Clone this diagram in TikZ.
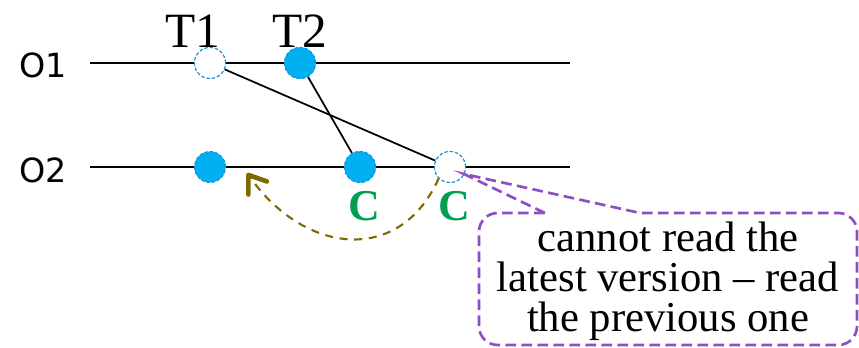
\documentclass[tikz,border=0pt]{standalone}
\usepackage{fontspec}
\setmainfont{Liberation Serif}
\newfontfamily\labfont{DejaVu Sans}
\usetikzlibrary{arrows.meta}
\definecolor{evcyan}{HTML}{00B0F0}
\definecolor{evblue}{HTML}{1E90D8}
\definecolor{evpurple}{HTML}{8E4EC6}
\definecolor{evolive}{HTML}{7F6A00}
\definecolor{evgreen}{HTML}{00A050}
\begin{document}
\begin{tikzpicture}[x=0.75pt,y=-0.75pt,
  evdot/.style={circle,minimum size=31pt*0.75,inner sep=0pt,draw=evblue,dash pattern=on 2.5pt off 1.5pt,line width=0.8pt,fill=evcyan},
  evghost/.style={evdot,fill=white},
  objlab/.style={font=\labfont\fontsize{25}{28}\selectfont},
  txlab/.style={font=\fontsize{37}{42}\selectfont},
  clab/.style={font=\bfseries\fontsize{33}{36}\selectfont,text=evgreen},
  timeline/.style={line width=1.4pt,black},
  dep/.style={line width=1.3pt,black}]
\useasboundingbox (0,0) rectangle (859,347);
% labels
\node[objlab] (o1) at (43,65) {O1};
\node[objlab] (o2) at (43,170) {O2};
% timelines
\coordinate (l1a) at (90,63);
\coordinate (l1b) at (570,63);
\coordinate (l2a) at (90,167);
\coordinate (l2b) at (570,167);
\draw[timeline] (l1a) -- (l1b);
\draw[timeline] (l2a) -- (l2b);
% events (placed first as anchors)
\node[evghost] (t1) at (210,63) {};
\node[evdot] (t2) at (300,63) {};
\node[evdot] (a) at (210,167) {};
\node[evdot] (b) at (360,167) {};
\node[evghost] (c) at (450,167) {};
% dependency lines
\draw[dep] (t1) -- (c);
\draw[dep] (t2) -- (b);
% redraw the touched nodes on top of the lines
\node[evghost] at (t1.center) {};
\node[evdot] at (t2.center) {};
\node[evdot] at (b.center) {};
\node[evghost] at (c.center) {};
% transaction labels
\node[txlab] (lt1) at (193,31) {T1};
\node[txlab] (lt2) at (300,31) {T2};
% C labels
\node[clab] (c1) at (364,206) {C};
\node[clab] (c2) at (454,206) {C};
% olive arrow
\coordinate (arrtip) at (247,173);
\draw[evolive,line width=1.6pt,dash pattern=on 6pt off 5pt,
  -{Straight Barb[length=12pt,width=17pt,line width=3.5pt,round]}]
  (c.south west) .. controls (400,265) and (305,255) .. (arrtip);
% callout
\coordinate (tip) at (464,174);
\draw[evpurple,line width=2pt,dash pattern=on 8pt off 4pt]
  (545,213) -- (tip) -- (640,213) [rounded corners=14pt] -- (857,213) -- (857,345) -- (479,345) -- (479,213) -- (545,213);
\node[align=center,font=\fontsize{32}{30}\selectfont,inner sep=0pt] (note) at (668,281)
  {cannot read the\\latest version -- read\\the previous one};
\end{tikzpicture}
\end{document}
